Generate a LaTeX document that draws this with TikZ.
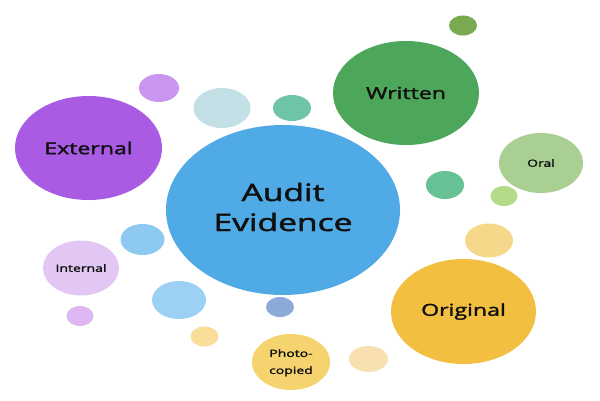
\documentclass[tikz,border=0pt]{standalone}
\usepackage{fontspec}
\setmainfont{Open Sans}[FakeBold=1.6]
\usetikzlibrary{shapes.geometric}
\definecolor{cAudit}{HTML}{4FAAE5}
\definecolor{cExt}{HTML}{A95CE3}
\definecolor{cWrit}{HTML}{4DA75A}
\definecolor{cOral}{HTML}{A9CF92}
\definecolor{cOrig}{HTML}{F2BF41}
\definecolor{cInt}{HTML}{E2C7F4}
\definecolor{cPhoto}{HTML}{F5D36E}
\definecolor{cA}{HTML}{C995EE}
\definecolor{cB}{HTML}{C2E0E6}
\definecolor{cC}{HTML}{6DC4A8}
\definecolor{cD}{HTML}{79A951}
\definecolor{cE}{HTML}{66C195}
\definecolor{cF}{HTML}{B4DB8A}
\definecolor{cG}{HTML}{8DC9F1}
\definecolor{cH}{HTML}{9DD1F3}
\definecolor{cI}{HTML}{DDB7F2}
\definecolor{cJ}{HTML}{8BAAD8}
\definecolor{cK}{HTML}{F8DE98}
\definecolor{cL}{HTML}{F5D889}
\definecolor{cM}{HTML}{F8E0B1}
\definecolor{txt}{HTML}{101010}
\newcommand{\wide}[1]{\scalebox{1.4}[1]{#1}}
\tikzset{
  blob/.style={ellipse, draw=none, inner sep=0pt, text=txt, align=center},
  big/.style={font=\fontsize{24}{30}\selectfont},
  mid/.style={font=\fontsize{16.5}{20}\selectfont},
  small/.style={font=\fontsize{10}{17}\selectfont},
}
\begin{document}
\begin{tikzpicture}[x=1pt,y=-1pt]
\useasboundingbox[fill=white] (0,0) rectangle (600,400);
% small decorative bubbles
\node[blob, fill=cA, minimum width=40pt, minimum height=28pt] (b1) at (159,88) {};
\node[blob, fill=cB, minimum width=57pt, minimum height=40pt] (b2) at (222,108) {};
\node[blob, fill=cC, minimum width=38pt, minimum height=26pt] (b3) at (292,108) {};
\node[blob, fill=cD, minimum width=28pt, minimum height=20pt] (b4) at (463,25.5) {};
\node[blob, fill=cE, minimum width=38pt, minimum height=28pt] (b5) at (445,185) {};
\node[blob, fill=cF, minimum width=27pt, minimum height=20pt] (b6) at (504,196) {};
\node[blob, fill=cG, minimum width=44pt, minimum height=31pt] (b7) at (142.5,239.5) {};
\node[blob, fill=cH, minimum width=54pt, minimum height=38pt] (b8) at (179,300) {};
\node[blob, fill=cI, minimum width=27pt, minimum height=20pt] (b9) at (80,316) {};
\node[blob, fill=cJ, minimum width=28pt, minimum height=20pt] (b10) at (280,307) {};
\node[blob, fill=cK, minimum width=28pt, minimum height=20pt] (b11) at (204.5,336.5) {};
\node[blob, fill=cL, minimum width=48pt, minimum height=34pt] (b12) at (489,240.5) {};
\node[blob, fill=cM, minimum width=39pt, minimum height=26pt] (b13) at (368.5,359) {};
% labelled bubbles
\node[blob, big, fill=cAudit, minimum width=234pt, minimum height=170pt] (audit) at (283,210)
  {\wide{\begin{tabular}{@{}c@{}}Audit\\Evidence\end{tabular}}};
\node[blob, mid, fill=cExt, minimum width=147pt, minimum height=104pt] (external) at (88.5,148) {\wide{External}};
\node[blob, mid, fill=cWrit, minimum width=146pt, minimum height=104pt] (written) at (406,93) {\wide{Written}};
\node[blob, mid, fill=cOrig, minimum width=145pt, minimum height=105pt] (original) at (463.5,311.5) {\wide{Original}};
\node[blob, small, fill=cOral, minimum width=84pt, minimum height=60pt] (oral) at (541,163) {\wide{Oral}};
\node[blob, small, fill=cInt, minimum width=76pt, minimum height=55pt] (internal) at (81,268) {\wide{Internal}};
\node[blob, small, fill=cPhoto, minimum width=78pt, minimum height=56pt] (photo) at (291,362)
  {\wide{\begin{tabular}{@{}c@{}}Photo-\\copied\end{tabular}}};
\end{tikzpicture}
\end{document}
